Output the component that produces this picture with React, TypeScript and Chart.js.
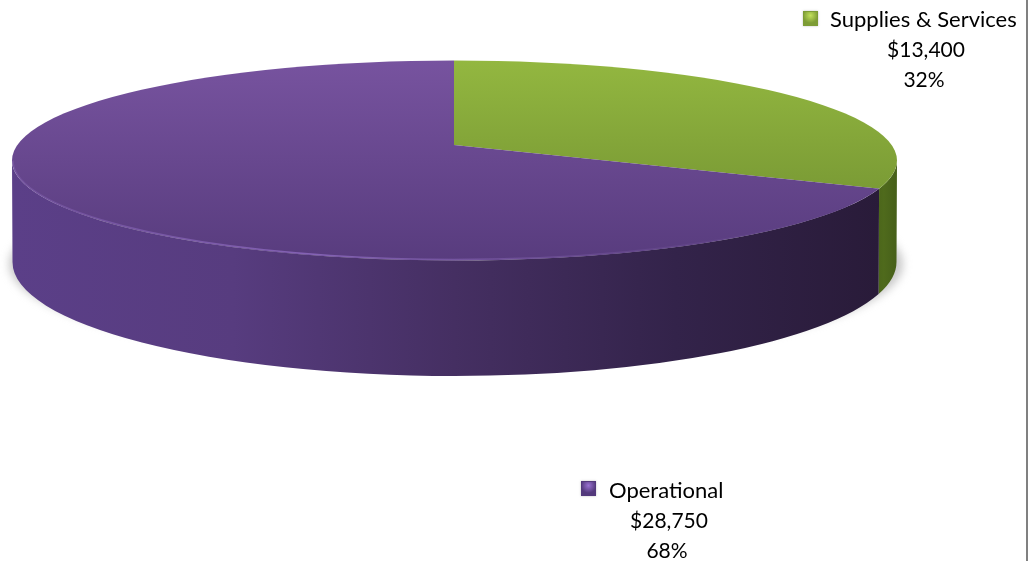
import React, { useEffect, useRef } from "react";
import { Chart, registerables } from "chart.js";

Chart.register(...registerables);

const categories = ["Supplies & Services", "Operational"];
const amounts = [13400, 28750];
const amountLabels = ["$13,400", "$28,750"];
const shareLabels = ["32%", "68%"];

const NAME_FONT = '22px Lato, "Open Sans", sans-serif';
const FIGURE_FONT = '21px Lato, "Open Sans", sans-serif';
const WIDTH = 1028;
const HEIGHT = 561;

// Tilted disc: the rim ellipse, the point the slices radiate from, and the lower edge of the wall.
const rim = { x: 454.5, y: 160.5, rx: 442.5, ry: 100 };
const floor = { x: 454.5, y: 262, rx: 442, ry: 114 };
const hub = { x: 454, y: 145 };
const tilt = rim.ry / rim.rx;

const topColors = [
  ["#93b740", "#6d8c2f"],
  ["#77539f", "#583c7e"],
];
const wallStops: [number, string][][] = [
  [[0.95, "#3c5215"], [0.985, "#4f6a1c"], [1, "#465f19"]],
  [[0, "#5b3f88"], [0.25, "#573c7f"], [0.5, "#452f62"], [0.75, "#33234a"], [0.98, "#291b39"]],
];
const markerColors = [
  { edge: "#7d9c35", glow: "#c2e05c" },
  { edge: "#53397c", glow: "#9a72d2" },
];

// Where a ray leaving the hub at a slice angle crosses the rim, as an ellipse parameter.
function rimParameter(angle: number) {
  const dx = Math.cos(angle);
  const dy = Math.sin(angle) * tilt;
  const ox = hub.x - rim.x;
  const oy = hub.y - rim.y;
  const a = (dx * dx) / (rim.rx * rim.rx) + (dy * dy) / (rim.ry * rim.ry);
  const b = 2 * ((ox * dx) / (rim.rx * rim.rx) + (oy * dy) / (rim.ry * rim.ry));
  const c = (ox * ox) / (rim.rx * rim.rx) + (oy * oy) / (rim.ry * rim.ry) - 1;
  const t = (-b + Math.sqrt(b * b - 4 * a * c)) / (2 * a);
  return Math.atan2((hub.y + t * dy - rim.y) / rim.ry, (hub.x + t * dx - rim.x) / rim.rx);
}

function drawMarker(ctx: CanvasRenderingContext2D, x: number, y: number, index: number) {
  const size = 15;
  const { edge, glow } = markerColors[index];
  ctx.save();
  ctx.shadowColor = "rgba(0,0,0,0.25)";
  ctx.shadowBlur = 2;
  ctx.fillStyle = edge;
  ctx.fillRect(x, y, size, size);
  ctx.shadowBlur = 0;
  const g = ctx.createRadialGradient(x + size / 2, y + size * 0.3, 0, x + size / 2, y + size * 0.3, size * 0.5);
  g.addColorStop(0, glow);
  g.addColorStop(1, edge);
  ctx.fillStyle = g;
  ctx.fillRect(x + 1, y + 1, size - 2, size - 2);
  ctx.restore();
}

const discPlugin = {
  id: "tiltedDisc",
  beforeDatasetsDraw(chart: Chart) {
    const ctx = chart.ctx;
    const arcs = chart.getDatasetMeta(0).data as any[];

    // Soft contact shadow under the disc
    ctx.save();
    ctx.filter = "blur(4px)";
    ctx.fillStyle = "rgba(165,165,165,0.6)";
    ctx.beginPath();
    ctx.ellipse(456, 264, 447, 100, 0, 0, Math.PI * 2);
    ctx.fill();
    ctx.restore();

    // Front wall, one band per slice, bounded by the slice's own angles
    arcs.forEach((arc, i) => {
      const start = rimParameter(arc.startAngle);
      let end = rimParameter(arc.endAngle);
      if (end <= start) end += Math.PI * 2;
      const from = Math.max(start, 0);
      const to = Math.min(end, Math.PI);
      if (to <= from) return;
      const g = ctx.createLinearGradient(rim.x - rim.rx, 0, rim.x + rim.rx, 0);
      wallStops[i].forEach(([p, c]) => g.addColorStop(p, c));
      ctx.fillStyle = g;
      ctx.beginPath();
      ctx.ellipse(rim.x, rim.y, rim.rx, rim.ry, 0, from, to);
      ctx.ellipse(floor.x, floor.y, floor.rx, floor.ry, 0, to, from, true);
      ctx.closePath();
      ctx.fill();
    });

    // Slices are drawn oversized around the hub, squashed, and trimmed to the rim
    const { x: cx, y: cy } = arcs[0];
    ctx.save();
    ctx.beginPath();
    ctx.ellipse(rim.x, rim.y, rim.rx, rim.ry, 0, 0, Math.PI * 2);
    ctx.clip();
    ctx.translate(hub.x, hub.y);
    ctx.scale(1, tilt);
    ctx.translate(-cx, -cy);
  },
  afterDatasetsDraw(chart: Chart) {
    const ctx = chart.ctx;
    ctx.restore();

    // Bevel highlight along the front of the rim
    const bevel = ctx.createLinearGradient(rim.x - rim.rx, 0, 876, 0);
    bevel.addColorStop(0, "rgba(140,105,190,0.35)");
    bevel.addColorStop(0.35, "rgba(140,105,190,0.85)");
    bevel.addColorStop(0.7, "rgba(110,80,150,0.6)");
    bevel.addColorStop(1, "rgba(90,60,130,0.2)");
    ctx.strokeStyle = bevel;
    ctx.lineWidth = 1.5;
    ctx.beginPath();
    ctx.ellipse(rim.x, rim.y, rim.rx - 1, rim.ry - 1, 0, rimParameter((chart.getDatasetMeta(0).data[0] as any).endAngle), Math.PI);
    ctx.stroke();

    // Page edge
    ctx.fillStyle = "#808080";
    ctx.fillRect(1026, 0, 2, HEIGHT);

    // Labels: name, amount and share
    ctx.fillStyle = "#000000";
    ctx.textBaseline = "alphabetic";
    ctx.font = NAME_FONT;
    ctx.textAlign = "left";
    ctx.fillText(categories[0], 830, 27);
    ctx.fillText(categories[1], 609, 498);
    ctx.font = FIGURE_FONT;
    ctx.textAlign = "center";
    ctx.fillText(amountLabels[0], 926, 57);
    ctx.fillText(shareLabels[0], 924, 87);
    ctx.fillText(amountLabels[1], 669, 528);
    ctx.fillText(shareLabels[1], 667, 558);
    drawMarker(ctx, 803, 11, 0);
    drawMarker(ctx, 581, 481, 1);
  },
};

export default function App() {
  const ref = useRef<HTMLCanvasElement>(null);

  useEffect(() => {
    document.body.style.margin = "0";
    document.body.style.background = "#ffffff";
    const chart = new Chart(ref.current!, {
      type: "pie",
      data: {
        labels: categories,
        datasets: [
          {
            data: amounts,
            borderWidth: 0,
            radius: 560,
            clip: false,
            backgroundColor: (c: any) => {
              const area = c.chart.chartArea;
              if (!area) return topColors[c.dataIndex][0];
              const mid = (area.top + area.bottom) / 2;
              const g = c.chart.ctx.createLinearGradient(
                0,
                mid + (rim.y - rim.ry - hub.y) / tilt,
                0,
                mid + (rim.y + rim.ry - hub.y) / tilt,
              );
              g.addColorStop(0, topColors[c.dataIndex][0]);
              g.addColorStop(1, topColors[c.dataIndex][1]);
              return g;
            },
          } as any,
        ],
      },
      options: {
        responsive: false,
        animation: false,
        layout: { padding: 0 },
        plugins: { legend: { display: false }, tooltip: { enabled: false } },
      },
      plugins: [discPlugin],
    });
    return () => chart.destroy();
  }, []);

  return <canvas ref={ref} width={WIDTH} height={HEIGHT} style={{ display: "block" }} />;
}
